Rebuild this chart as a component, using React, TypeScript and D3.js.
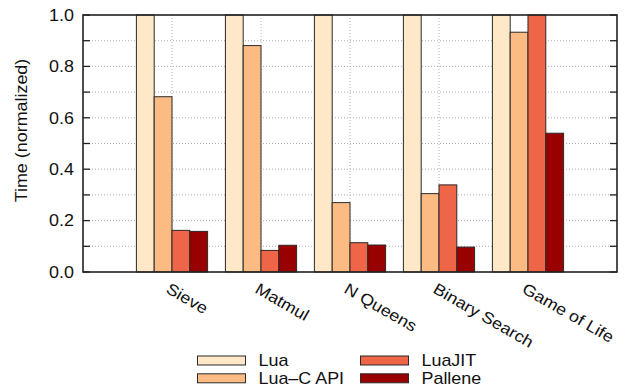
import React from "react";
import * as d3 from "d3";

const benchmarks = ["Sieve", "Matmul", "N Queens", "Binary Search", "Game of Life"];
const seriesNames = ["Lua", "Lua\u2013C API", "LuaJIT", "Pallene"];
const seriesColors = ["#fee8c8", "#fdbb84", "#ef6548", "#990000"];

const luaTimes = [1.0, 1.0, 1.0, 1.0, 1.0];
const luaCApiTimes = [0.682, 0.881, 0.27, 0.305, 0.933];
const luaJitTimes = [0.162, 0.084, 0.114, 0.339, 1.0];
const palleneTimes = [0.158, 0.104, 0.105, 0.097, 0.54];

const yTicks = [0, 0.1, 0.2, 0.3, 0.4, 0.5, 0.6, 0.7, 0.8, 0.9, 1.0];

const W = 625;
const H = 391;
const left = 83;
const right = 617;
const top = 15;
const bottom = 272;
const font = "'Liberation Sans', Arial, Helvetica, sans-serif";
const SX = 1.12; // glyphs in the figure are a bit wider than Arial

const App = () => {
  const series = [luaTimes, luaCApiTimes, luaJitTimes, palleneTimes];

  const x = d3.scaleLinear().domain([0, benchmarks.length + 1]).range([left, right]);
  const y = d3.scaleLinear().domain([0, 1]).range([bottom, top]);
  const slot = x(1) - x(0);
  const groupW = slot * 0.8;
  const inner = d3
    .scaleBand()
    .domain(seriesNames)
    .range([-groupW / 2, groupW / 2])
    .padding(0);

  const fmt = d3.format(".1f");

  return (
    <svg width={W} height={H} style={{ position: "absolute", left: 0, top: 0 }}>
      {/* grid */}
      {yTicks.slice(1, -1).map(t => (
        <line
          key={"gy" + t}
          x1={left}
          x2={right}
          y1={y(t)}
          y2={y(t)}
          stroke="#b0b0b0"
          strokeWidth={1}
          strokeDasharray="1,2"
        />
      ))}
      {benchmarks.map((b, i) => (
        <line
          key={"gx" + b}
          x1={x(i + 1)}
          x2={x(i + 1)}
          y1={top}
          y2={bottom}
          stroke="#b0b0b0"
          strokeWidth={1}
          strokeDasharray="1,2"
        />
      ))}

      {/* bars */}
      {benchmarks.map((b, i) =>
        series.map((vals, s) => (
          <rect
            key={b + s}
            x={x(i + 1) + (inner(seriesNames[s]) as number)}
            y={y(Math.min(vals[i], 1))}
            width={inner.bandwidth()}
            height={bottom - y(Math.min(vals[i], 1))}
            fill={seriesColors[s]}
            stroke="#2a2a2a"
            strokeWidth={1}
          />
        ))
      )}

      {/* ticks */}
      {yTicks.map(t => (
        <g key={"t" + t}>
          <line x1={left} x2={left + 7} y1={y(t)} y2={y(t)} stroke="#222" strokeWidth={1.3} />
          <line x1={right - 7} x2={right} y1={y(t)} y2={y(t)} stroke="#222" strokeWidth={1.3} />
        </g>
      ))}
      {yTicks
        .filter((t, i) => i % 2 === 0)
        .map(t => (
          <text
            key={"l" + t}
            transform={`translate(74, ${y(t) + 5.8}) scale(${SX},1)`}
            textAnchor="end"
            fontFamily={font}
            fontSize={16}
            fill="#111"
          >
            {fmt(t)}
          </text>
        ))}

      {/* border */}
      <rect
        x={left}
        y={top}
        width={right - left}
        height={bottom - top}
        fill="none"
        stroke="#222"
        strokeWidth={1.6}
      />

      {/* x labels */}
      {benchmarks.map((b, i) => (
        <text
          key={"xl" + b}
          transform={`translate(${x(i + 1) - 7}, 292) rotate(30) scale(${SX},1)`}
          textAnchor="start"
          fontFamily={font}
          fontSize={16}
          fill="#111"
        >
          {b}
        </text>
      ))}

      {/* y label */}
      <text
        transform={`translate(26.5, 130.5) rotate(-90) scale(${SX},1)`}
        textAnchor="middle"
        fontFamily={font}
        fontSize={16}
        fill="#111"
      >
        Time (normalized)
      </text>

      {/* legend */}
      {seriesNames.map((name, s) => {
        const col = Math.floor(s / 2);
        const row = s % 2;
        const lx = 197.5 + col * 163;
        const ly = 360.5 + row * 17.8;
        return (
          <g key={"lg" + name}>
            <rect
              x={lx}
              y={ly - 4.5}
              width={48}
              height={9}
              fill={seriesColors[s]}
              stroke="#2a2a2a"
              strokeWidth={1}
            />
            <text
              transform={`translate(${lx + 61}, ${ly + 5.8}) scale(${SX},1)`}
              fontFamily={font}
              fontSize={16}
              fill="#111"
            >
              {name}
            </text>
          </g>
        );
      })}
    </svg>
  );
};

export default App;
